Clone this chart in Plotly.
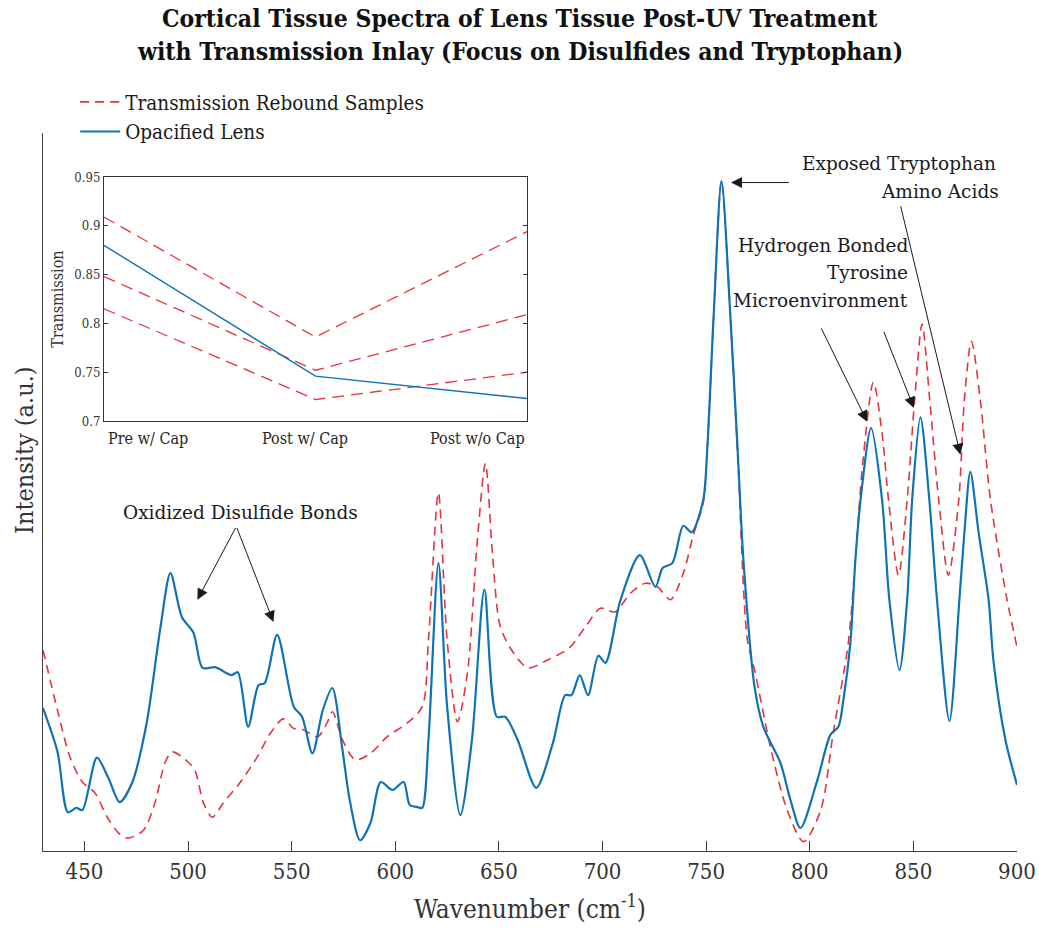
import plotly.graph_objects as go

# Raman spectra (intensity in arbitrary units) versus wavenumber (cm^-1)
opacified_wn = [430, 437, 442, 446, 449, 456, 461.5, 467, 473, 480, 486.7, 491.5, 497, 502.6,
                507, 513, 521, 524, 529, 534, 537, 543, 551, 555, 560, 565, 569.6, 574.5,
                578, 583, 588, 593, 598.6, 604, 607, 611, 613, 616, 620.8, 625, 631.4, 637,
                643, 649, 653, 659, 668, 676, 682, 685, 689, 693, 698, 701.4, 708.7, 718,
                725.5, 729, 733.7, 739, 743, 748.6, 750.5, 753.6, 757.4, 761.7, 765.2, 768,
                773.4, 777.6, 785.8, 790.7, 795.5, 803.7, 810, 813.8, 816.2, 819.6, 822,
                824.5, 829.6, 834.9, 838.4, 843.3, 847, 849.4, 853.4, 857.7, 861.4, 867.4,
                872.2, 874.6, 877.5, 881.5, 886.3, 888.6, 894.4, 900]
opacified_int = [0.199, 0.138, 0.054, 0.060, 0.057, 0.130, 0.102, 0.068, 0.095, 0.178, 0.312,
                 0.387, 0.326, 0.304, 0.255, 0.256, 0.245, 0.249, 0.173, 0.231, 0.234, 0.301,
                 0.201, 0.187, 0.136, 0.196, 0.227, 0.141, 0.071, 0.015, 0.039, 0.096, 0.085,
                 0.096, 0.064, 0.061, 0.060, 0.155, 0.401, 0.201, 0.050, 0.155, 0.364, 0.187,
                 0.187, 0.155, 0.088, 0.150, 0.217, 0.217, 0.245, 0.217, 0.272, 0.262, 0.350,
                 0.412, 0.368, 0.394, 0.401, 0.453, 0.444, 0.489, 0.558, 0.744, 0.933, 0.744,
                 0.558, 0.405, 0.228, 0.173, 0.123, 0.071, 0.032, 0.099, 0.162, 0.173, 0.210,
                 0.290, 0.405, 0.489, 0.589, 0.489, 0.350, 0.252, 0.350, 0.489, 0.604, 0.489,
                 0.350, 0.181, 0.350, 0.443, 0.528, 0.443, 0.350, 0.266, 0.155, 0.092]

rebound_wn = [430, 437, 443, 449, 455, 461, 466.5, 471, 478.5, 484, 489, 492.4, 500, 503.6,
              507.4, 511.7, 517, 525, 533.4, 539.7, 546, 550.8, 555.6, 562.4, 567, 569.7,
              574.5, 580.7, 588, 596, 605.7, 613, 616, 620.8, 625, 630, 634.8, 639.6, 643.5,
              647, 650.7, 657, 664, 673.4, 684, 691.7, 699, 706, 713.5, 720.7, 726.5, 732.8,
              739, 743.8, 748.6, 750.5, 753.6, 757.4, 761.7, 765.2, 769.9, 773.4, 781, 789.1,
              797, 805.3, 811.3, 818.6, 822, 825.4, 830.7, 834.9, 838, 842.8, 847, 850.6,
              854.2, 857.9, 862.2, 866.9, 871.9, 874.6, 878, 882.3, 887.2, 895.2, 900]
rebound_int = [0.280, 0.196, 0.131, 0.096, 0.081, 0.047, 0.025, 0.018, 0.029, 0.067, 0.124,
               0.138, 0.124, 0.110, 0.067, 0.047, 0.067, 0.095, 0.131, 0.164, 0.184, 0.171,
               0.169, 0.159, 0.178, 0.194, 0.155, 0.127, 0.136, 0.159, 0.178, 0.201, 0.294,
               0.499, 0.294, 0.180, 0.248, 0.433, 0.540, 0.409, 0.312, 0.276, 0.255, 0.266,
               0.283, 0.312, 0.338, 0.333, 0.359, 0.373, 0.368, 0.350, 0.387, 0.440, 0.485,
               0.558, 0.744, 0.933, 0.744, 0.552, 0.294, 0.252, 0.145, 0.057, 0.013, 0.057,
               0.164, 0.290, 0.405, 0.535, 0.653, 0.582, 0.489, 0.384, 0.489, 0.628, 0.734,
               0.628, 0.489, 0.384, 0.489, 0.628, 0.710, 0.628, 0.489, 0.350, 0.284]

x_ticks = [450, 500, 550, 600, 650, 700, 750, 800, 850, 900]

# Inset: optical transmission at each treatment stage
stages = ["Pre w/ Cap", "Post w/ Cap", "Post w/o Cap"]
rebound_transmission = [
    [0.909, 0.786, 0.894],
    [0.848, 0.752, 0.809],
    [0.815, 0.722, 0.750],
]
opacified_transmission = [0.880, 0.746, 0.723]
inset_ticks = [0.7, 0.75, 0.8, 0.85, 0.9, 0.95]

title_lines = ["Cortical Tissue Spectra of Lens Tissue Post-UV Treatment",
               "with Transmission Inlay (Focus on Disulfides and Tryptophan)"]

RED = "#E5333F"
BLUE = "#0F72B5"
SERIF = "DejaVu Serif Condensed, Liberation Serif, serif"
WIDE_SERIF = "DejaVu Serif"
AXIS_COLOR = "#404040"

fig = go.Figure()

fig.add_trace(go.Scatter(
    x=rebound_wn, y=rebound_int, mode="lines", name="Transmission Rebound Samples",
    line=dict(color=RED, width=1.6, dash="9px,6px", shape="spline", smoothing=0.8),
))
fig.add_trace(go.Scatter(
    x=opacified_wn, y=opacified_int, mode="lines", name="Opacified Lens",
    line=dict(color=BLUE, width=2.2, shape="spline", smoothing=0.8),
))

# Inset traces
for series in rebound_transmission:
    fig.add_trace(go.Scatter(
        x=[0, 1, 2], y=series, mode="lines", showlegend=False,
        line=dict(color=RED, width=1.3, dash="12px,7px"),
        xaxis="x2", yaxis="y2",
    ))
fig.add_trace(go.Scatter(
    x=[0, 1, 2], y=opacified_transmission, mode="lines", showlegend=False,
    line=dict(color=BLUE, width=1.4), xaxis="x2", yaxis="y2",
))

annotations = []

# Two-line bold title
for text, ypos in zip(title_lines, [1.160, 1.113]):
    annotations.append(dict(
        x=0.4897, y=ypos, xref="paper", yref="paper", text="<b>" + text + "</b>",
        showarrow=False, xanchor="center", yanchor="middle",
        font=dict(family=SERIF, size=24.5, color="#111111"),
    ))

# Vertical axis label
annotations.append(dict(
    x=-0.0185, y=0.5585, xref="paper", yref="paper", text="Intensity (a.u.)",
    showarrow=False, textangle=-90, xanchor="center", yanchor="middle",
    font=dict(family=SERIF, size=25, color="#333333"),
))

# Inset category labels
for i, (label_text, anchor, shift) in enumerate(zip(stages, ["left", "center", "right"], [2, -10, 0])):
    annotations.append(dict(
        x=i, y=0.7, xref="x2", yref="y2", text=label_text, showarrow=False,
        xanchor=anchor, yanchor="top", xshift=shift, yshift=-6,
        font=dict(family=SERIF, size=16, color="#262626"),
    ))

# Text labels
def label(x, y, text, anchor):
    annotations.append(dict(
        x=x, y=y, xref="x", yref="y", text=text, showarrow=False,
        xanchor=anchor, yanchor="middle",
        font=dict(family=WIDE_SERIF, size=18.5, color="#1a1a1a"),
    ))

label(525.3, 0.472, "Oxidized Disulfide Bonds", "center")
label(890.6, 0.958, "Exposed Tryptophan", "right")
label(892.5, 0.918, "Amino Acids", "right")
label(848.6, 0.844, "Hydrogen Bonded", "right")
label(848.6, 0.806, "Tyrosine", "right")
label(848.6, 0.767, "Microenvironment", "right")

# Arrows (tail -> head)
def arrow(tail, head):
    annotations.append(dict(
        x=head[0], y=head[1], ax=tail[0], ay=tail[1],
        xref="x", yref="y", axref="x", ayref="y", text="",
        showarrow=True, arrowhead=2, arrowsize=2.2, arrowwidth=1,
        arrowcolor="#1a1a1a", standoff=0,
    ))

arrow((523.3, 0.452), (504.5, 0.350))
arrow((523.3, 0.452), (541.2, 0.319))
arrow((790.6, 0.931), (762.0, 0.931))
arrow((843.7, 0.900), (872.7, 0.552))
arrow((805.2, 0.730), (827.7, 0.598))
arrow((835.5, 0.725), (850.2, 0.617))

fig.update_layout(
    width=1039, height=934,
    margin=dict(l=43, r=22, t=133, b=83),
    paper_bgcolor="white", plot_bgcolor="white",
    showlegend=True,
    legend=dict(
        x=0.033, y=1.071, xanchor="left", yanchor="top",
        bgcolor="rgba(0,0,0,0)", font=dict(family=SERIF, size=20.5, color="#1a1a1a"),
        itemwidth=40, tracegroupgap=0,
    ),
    xaxis=dict(
        domain=[0, 1], range=[430, 900], tickvals=x_ticks, automargin=False,
        ticks="inside", ticklen=10, tickcolor=AXIS_COLOR,
        showline=True, linecolor=AXIS_COLOR, linewidth=1.2,
        showgrid=False, zeroline=False,
        tickfont=dict(family=SERIF, size=22, color="#333333"),
        title=dict(text="Wavenumber (cm<sup>-1</sup>)", standoff=17,
                   font=dict(family=SERIF, size=26, color="#333333")),
    ),
    yaxis=dict(
        domain=[0, 1], range=[0, 1], showticklabels=False, ticks="", automargin=False,
        showline=True, linecolor=AXIS_COLOR, linewidth=1.2,
        showgrid=False, zeroline=False,
    ),
    xaxis2=dict(
        domain=[0.0626, 0.4969], anchor="y2", range=[0, 2],
        showticklabels=False, ticks="", showgrid=False, zeroline=False,
        showline=True, mirror=True, linecolor="#333333", linewidth=1,
    ),
    yaxis2=dict(
        domain=[0.5989, 0.9387], anchor="x2", range=[0.7, 0.95],
        tickvals=inset_ticks, ticks="inside", ticklen=4, tickcolor="#333333",
        showgrid=False, zeroline=False,
        showline=True, mirror="ticks", linecolor="#333333", linewidth=1,
        tickfont=dict(family=SERIF, size=13, color="#333333"),
        title=dict(text="Transmission", standoff=6,
                   font=dict(family=SERIF, size=16, color="#333333")),
    ),
    annotations=annotations,
)

fig.write_html("out.html")
